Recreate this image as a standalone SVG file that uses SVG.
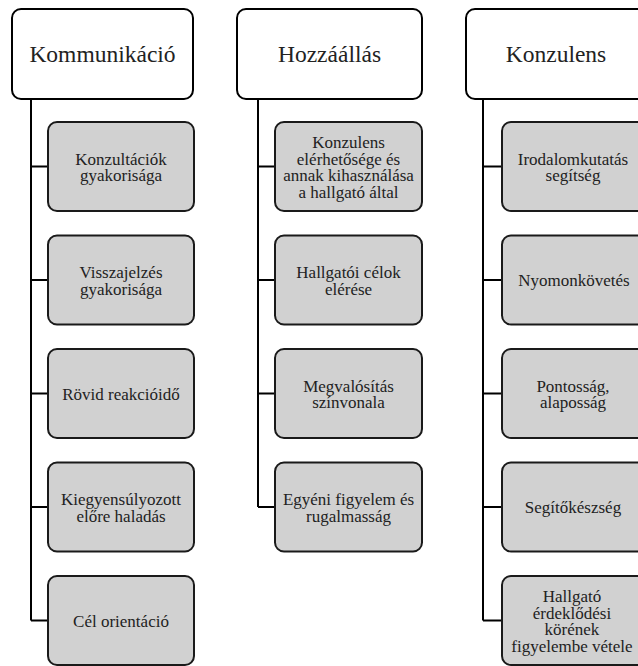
<svg xmlns="http://www.w3.org/2000/svg" width="638" height="666" viewBox="0 0 638 666">
  <style>
    .head rect { fill: #ffffff; stroke: #000000; stroke-width: 2; }
    .item rect { fill: #d1d1d1; stroke: #1a1a1a; stroke-width: 2; }
    text { fill: #222222; text-anchor: middle; }
    .head text { font-size: 23.5px; }
    .item text { font-size: 17px; }
    #connectors path { fill: none; stroke: #000000; stroke-width: 2; }
  </style>
  <rect x="0" y="0" width="638" height="666" fill="#ffffff"/>

  <!-- tree connectors: trunk under each heading with a branch to each item -->
  <g id="connectors">
    <path d="M31 99 V620.5 M31 166.5 H48 M31 280 H48 M31 393.5 H48 M31 507 H48 M31 620.5 H48"/>
    <path d="M258 99 V507 M258 166.5 H275 M258 280 H275 M258 393.5 H275 M258 507 H275"/>
    <path d="M483 99 V620.5 M483 166.5 H502 M483 280 H502 M483 393.5 H502 M483 507 H502 M483 620.5 H502"/>
  </g>

  <!-- headings -->
  <g id="kommunikacio" class="head">
    <rect x="12" y="9" width="181" height="90" rx="9"/>
    <text x="102.5" y="62" font-family="Liberation Serif, serif">Kommunikáció</text>
  </g>
  <g id="hozzaallas" class="head">
    <rect x="237" y="9" width="185" height="90" rx="9"/>
    <text x="329.5" y="62" font-family="Liberation Serif, serif">Hozzáállás</text>
  </g>
  <g id="konzulens" class="head">
    <rect x="466" y="9" width="181" height="90" rx="9"/>
    <text x="556" y="62" font-family="Liberation Serif, serif">Konzulens</text>
  </g>

  <!-- Kommunikáció items -->
  <g id="k1" class="item">
    <rect x="48" y="122" width="146" height="89" rx="9"/>
    <text x="121" y="164.5" font-family="Liberation Serif, serif">Konzultációk</text>
    <text x="121" y="181" font-family="Liberation Serif, serif">gyakorisága</text>
  </g>
  <g id="k2" class="item">
    <rect x="48" y="235.5" width="146" height="89" rx="9"/>
    <text x="121" y="278" font-family="Liberation Serif, serif">Visszajelzés</text>
    <text x="121" y="294.5" font-family="Liberation Serif, serif">gyakorisága</text>
  </g>
  <g id="k3" class="item">
    <rect x="48" y="349" width="146" height="89" rx="9"/>
    <text x="121" y="399.5" font-family="Liberation Serif, serif">Rövid reakcióidő</text>
  </g>
  <g id="k4" class="item">
    <rect x="48" y="462.5" width="146" height="89" rx="9"/>
    <text x="121" y="505" font-family="Liberation Serif, serif">Kiegyensúlyozott</text>
    <text x="121" y="521.5" font-family="Liberation Serif, serif">előre haladás</text>
  </g>
  <g id="k5" class="item">
    <rect x="48" y="576" width="146" height="89" rx="9"/>
    <text x="121" y="626.5" font-family="Liberation Serif, serif">Cél orientáció</text>
  </g>

  <!-- Hozzáállás items -->
  <g id="h1" class="item">
    <rect x="275" y="122" width="147" height="89" rx="9"/>
    <text x="348.5" y="148" font-family="Liberation Serif, serif">Konzulens</text>
    <text x="348.5" y="164.5" font-family="Liberation Serif, serif">elérhetősége és</text>
    <text x="348.5" y="181" font-family="Liberation Serif, serif">annak kihasználása</text>
    <text x="348.5" y="197.5" font-family="Liberation Serif, serif">a hallgató által</text>
  </g>
  <g id="h2" class="item">
    <rect x="275" y="235.5" width="147" height="89" rx="9"/>
    <text x="348.5" y="278" font-family="Liberation Serif, serif">Hallgatói célok</text>
    <text x="348.5" y="294.5" font-family="Liberation Serif, serif">elérése</text>
  </g>
  <g id="h3" class="item">
    <rect x="275" y="349" width="147" height="89" rx="9"/>
    <text x="348.5" y="391.5" font-family="Liberation Serif, serif">Megvalósítás</text>
    <text x="348.5" y="408" font-family="Liberation Serif, serif">színvonala</text>
  </g>
  <g id="h4" class="item">
    <rect x="275" y="462.5" width="147" height="89" rx="9"/>
    <text x="348.5" y="505" font-family="Liberation Serif, serif">Egyéni figyelem és</text>
    <text x="348.5" y="521.5" font-family="Liberation Serif, serif">rugalmasság</text>
  </g>

  <!-- Konzulens items -->
  <g id="c1" class="item">
    <rect x="502" y="122" width="146" height="89" rx="9"/>
    <text x="573" y="164.5" font-family="Liberation Serif, serif">Irodalomkutatás</text>
    <text x="573" y="181" font-family="Liberation Serif, serif">segítség</text>
  </g>
  <g id="c2" class="item">
    <rect x="502" y="235.5" width="146" height="89" rx="9"/>
    <text x="574" y="286" font-family="Liberation Serif, serif">Nyomonkövetés</text>
  </g>
  <g id="c3" class="item">
    <rect x="502" y="349" width="146" height="89" rx="9"/>
    <text x="573" y="391.5" font-family="Liberation Serif, serif">Pontosság,</text>
    <text x="573" y="408" font-family="Liberation Serif, serif">alaposság</text>
  </g>
  <g id="c4" class="item">
    <rect x="502" y="462.5" width="146" height="89" rx="9"/>
    <text x="573" y="513" font-family="Liberation Serif, serif">Segítőkészség</text>
  </g>
  <g id="c5" class="item">
    <rect x="502" y="576" width="146" height="89" rx="9"/>
    <text x="572" y="602" font-family="Liberation Serif, serif">Hallgató</text>
    <text x="572" y="618.5" font-family="Liberation Serif, serif">érdeklődési</text>
    <text x="572" y="635" font-family="Liberation Serif, serif">körének</text>
    <text x="572" y="651.5" font-family="Liberation Serif, serif">figyelembe vétele</text>
  </g>
</svg>
